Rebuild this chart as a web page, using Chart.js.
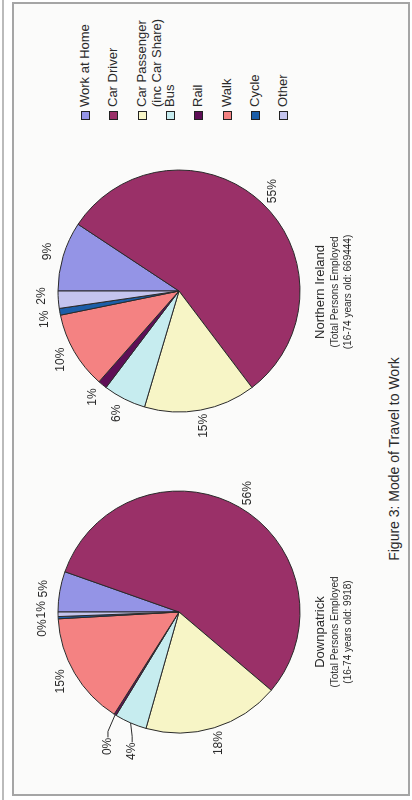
<!DOCTYPE html>
<html>
<head>
<meta charset="utf-8">
<script src="https://cdn.jsdelivr.net/npm/chart.js@4.4.0/dist/chart.umd.min.js"></script>
<style>
  html, body { margin: 0; padding: 0; background: #fff; }
  body { width: 412px; height: 800px; position: relative; overflow: hidden;
         font-family: "Liberation Sans", Arial, sans-serif; color: #2a2a2a; }
  #edge { position: absolute; left: 2px; top: 0; width: 2px; height: 800px; background: #bbb; }
  #frame { position: absolute; left: 12px; top: 2px; width: 394px; height: 790px;
           border: 2px solid #a5a5a5; background: #fbfbfa; }
  /* the figure is laid out landscape, then turned a quarter to the left */
  #page { position: absolute; left: 0; top: 0; width: 800px; height: 412px;
          transform-origin: 0 0; transform: translate(0, 800px) rotate(-90deg); }
  #page canvas { position: absolute; }
  .txt { position: absolute; white-space: nowrap; transform: translate(-50%, -50%); }
  .name { font-size: 13px; }
  .sub { font-size: 10px; }
  #title { font-size: 14px; }
  .leg { position: absolute; left: 680px; width: 115px; font-size: 13px; line-height: 15px; }
  .leg i { position: absolute; left: 0; top: 4px; width: 7px; height: 7px; border: 1px solid #222; }
  .leg span { display: block; margin-left: 13px; width: 102px; white-space: normal; }
</style>
</head>
<body>
<div id="edge"></div>
<div id="frame"></div>
<div id="page">
  <canvas id="downChart" width="300" height="300" style="left:38px; top:29px;"></canvas>
  <canvas id="niChart" width="300" height="300" style="left:359px; top:29px;"></canvas>
  <div class="txt name" style="left:168px; top:319px;">Downpatrick</div>
  <div class="txt sub" style="left:168px; top:334px;">(Total Persons Employed</div>
  <div class="txt sub" style="left:168px; top:347px;">(16-74 years old: 9918)</div>
  <div class="txt name" style="left:508px; top:319px;">Northern Ireland</div>
  <div class="txt sub" style="left:508px; top:334px;">(Total Persons Employed</div>
  <div class="txt sub" style="left:508px; top:347px;">(16-74 years old: 669444)</div>
  <div class="txt" id="title" style="left:341px; top:394px;">Figure 3: Mode of Travel to Work</div>
  <div id="legend"></div>
</div>

<script>

	// modes of travel, in the order the slices run (clockwise from 12 o'clock)
	var modes = ['Work at Home', 'Car Driver', 'Car Passenger (inc Car Share)', 'Bus', 'Rail', 'Walk', 'Cycle', 'Other'];
	var modeColours = ['#9494e6', '#9a3068', '#f7f5c6', '#c6ecef', '#5e0e56', '#f48282', '#1c5ea8', '#c4c4ee'];

	// share of persons employed, per cent
	var downpatrick = [5.4, 55.8, 18.2, 4.3, 0.3, 15.1, 0.3, 0.6];
	var northernIreland = [9.3, 55.4, 14.9, 5.7, 1.2, 10.3, 0.9, 2.3];

	// legend, built from the same names and colours
	var legend = document.getElementById('legend');
	modes.forEach(function (m, i) {
		var row = document.createElement('div');
		row.className = 'leg';
		row.style.top = (77 + i * 28.3) + 'px';
		row.innerHTML = '<i style="background:' + modeColours[i] + '"></i><span>' + m + '</span>';
		legend.appendChild(row);
	});

	// percentage labels just outside each slice
	var pctLabels = {
		id: 'pctLabels',
		afterDatasetsDraw: function (chart, args, opts) {
			var ctx = chart.ctx;
			var values = chart.data.datasets[0].data;
			ctx.save();
			ctx.font = '12px "Liberation Sans", Arial, sans-serif';
			ctx.fillStyle = '#2a2a2a';
			ctx.strokeStyle = '#2a2a2a';
			ctx.lineWidth = 1;
			ctx.textAlign = 'center';
			ctx.textBaseline = 'middle';
			chart.getDatasetMeta(0).data.forEach(function (arc, i) {
				var p = arc.getProps(['x', 'y', 'startAngle', 'endAngle', 'outerRadius'], true);
				var mid = (p.startAngle + p.endAngle) / 2;
				var s = (opts.shift && opts.shift[i]) || { r: 0, a: 0 };
				var a = mid + s.a * Math.PI / 180;
				var r = p.outerRadius + 16 + s.r;
				var lx = p.x + Math.cos(a) * r;
				var ly = p.y + Math.sin(a) * r;
				if (s.line) {
					ctx.beginPath();
					ctx.moveTo(lx + 9, ly);
					ctx.lineTo(lx + 15, ly);
					ctx.lineTo(p.x + Math.cos(mid) * p.outerRadius, p.y + Math.sin(mid) * p.outerRadius);
					ctx.stroke();
				}
				ctx.fillText(Math.round(values[i]) + '%', lx, ly);
			});
			ctx.restore();
		}
	};

	function makePie(id, values, shift) {
		return new Chart(document.getElementById(id).getContext('2d'), {
			type: 'pie',
			data: {
				labels: modes,
				datasets: [{
					data: values,
					backgroundColor: modeColours,
					borderColor: '#2a2a2a',
					borderWidth: 1,
					radius: 121
				}]
			},
			options: {
				responsive: false,
				animation: false,
				layout: { padding: 0 },
				plugins: {
					legend: { display: false },
					tooltip: { enabled: false },
					pctLabels: { shift: shift }
				}
			},
			plugins: [pctLabels]
		});
	}

	makePie('downChart', downpatrick, {
		3: { r: 10, a: -5, line: true },
		4: { r: 15, a: -4, line: true },
		6: { r: 0, a: -4 },
		7: { r: 0, a: 2 }
	});
	makePie('niChart', northernIreland, {
		6: { r: 0, a: -2 },
		7: { r: 0, a: 2 }
	});

</script>
</body>
</html>
